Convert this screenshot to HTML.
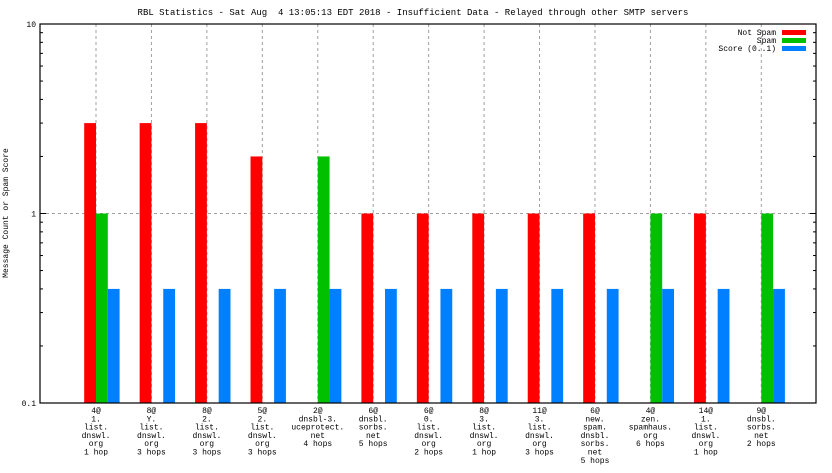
<!DOCTYPE html>
<html><head><meta charset="utf-8"><style>
body{margin:0;background:#fff;}
svg text{font-family:"Liberation Mono",monospace;font-size:8px;fill:#000;white-space:pre;}
</style></head><body>
<svg id="chart" width="832" height="468" xmlns="http://www.w3.org/2000/svg">
<text x="413" y="15" text-anchor="middle" style="font-size:9px">RBL Statistics - Sat Aug  4 13:05:13 EDT 2018 - Insufficient Data - Relayed through other SMTP servers</text>
<text transform="translate(8,213) rotate(-90)" text-anchor="middle">Message Count or Spam Score</text>
<g id="grid"></g><g id="bars"></g><g id="axes"></g><g id="xlabels"></g>
<g>
<text x="776" y="35" text-anchor="end">Not Spam</text>
<rect x="782" y="30" width="24" height="5" fill="#ff0000"/>
<text x="776" y="43" text-anchor="end">Spam</text>
<rect x="782" y="38" width="24" height="5" fill="#00c000"/>
<text x="776" y="51" text-anchor="end">Score (0..1)</text>
<rect x="782" y="46" width="24" height="5" fill="#0080ff"/>
</g>
</svg>
<script>
const categories=[["4@","1.","list.","dnswl.","org","1 hop"],["8@","Y.","list.","dnswl.","org","3 hops"],["8@","2.","list.","dnswl.","org","3 hops"],["5@","2.","list.","dnswl.","org","3 hops"],["2@","dnsbl-3.","uceprotect.","net","4 hops"],["6@","dnsbl.","sorbs.","net","5 hops"],["6@","0.","list.","dnswl.","org","2 hops"],["8@","3.","list.","dnswl.","org","1 hop"],["11@","3.","list.","dnswl.","org","3 hops"],["6@","new.","spam.","dnsbl.","sorbs.","net","5 hops"],["4@","zen.","spamhaus.","org","6 hops"],["14@","1.","list.","dnswl.","org","1 hop"],["9@","dnsbl.","sorbs.","net","2 hops"]];
const notSpam=[3,3,3,2,0,1,1,1,1,1,0,1,0];
const spam=[1,0,0,0,2,0,0,0,0,0,1,0,1];
const score=[0.4,0.4,0.4,0.4,0.4,0.4,0.4,0.4,0.4,0.4,0.4,0.4,0.4];
const yTicks=[0.1,1,10];
const NS="http://www.w3.org/2000/svg";
const L=40,R=816,T=24,B=403,x0=96,step=(761.3-96)/12,bw=11.8;
const y=v=>B-(Math.log10(v)+1)/2*(B-T);
const xc=i=>x0+i*step;
function mk(tag,attrs,parent){const e=document.createElementNS(NS,tag);for(const k in attrs)e.setAttribute(k,attrs[k]);document.getElementById(parent).appendChild(e);return e;}
categories.forEach((c,i)=>{const l=mk('line',{x1:xc(i),x2:xc(i),y1:T,y2:B,stroke:'#a0a0a0','stroke-dasharray':'3,3'},'grid');

});
const hg=mk('line',{x1:L,x2:R,y1:y(1),y2:y(1),stroke:'#a0a0a0','stroke-dasharray':'3,3'},'grid');


const series=[[notSpam,'#ff0000',-1,'bar-not-spam'],[spam,'#00c000',0,'bar-spam'],[score,'#0080ff',1,'bar-score']];
series.forEach(([arr,col,off,nm])=>arr.forEach((v,i)=>{if(v<=0.1)return;const r=mk('rect',{x:xc(i)+off*bw,y:y(v),width:bw,height:B-y(v),fill:col},'bars');

}));
const fr=mk('rect',{x:L,y:T,width:R-L,height:B-T,fill:'none',stroke:'#000','stroke-width':1.2},'axes');


yTicks.forEach(t=>{const tx=mk('text',{x:L-4,y:y(t)+3,'text-anchor':'end'},'axes');tx.textContent=t;

});
for(let d=0.1;d<10;d*=10)for(let m=1;m<=9;m++){const v=d*m;const len=m===1?6:3;
[[L,L+len],[R,R-len]].forEach(([a,b])=>{const tk=mk('line',{x1:a,x2:b,y1:y(v),y2:y(v),stroke:'#000'},'axes');

});}
categories.forEach((c,i)=>{const t=mk('text',{'text-anchor':'middle'},'xlabels');


c.forEach((s,j)=>{const ts=mk('tspan',{x:xc(i),y:413+j*8.3},'xlabels');ts.textContent=s;t.appendChild(ts);});});
</script>
</body></html>
